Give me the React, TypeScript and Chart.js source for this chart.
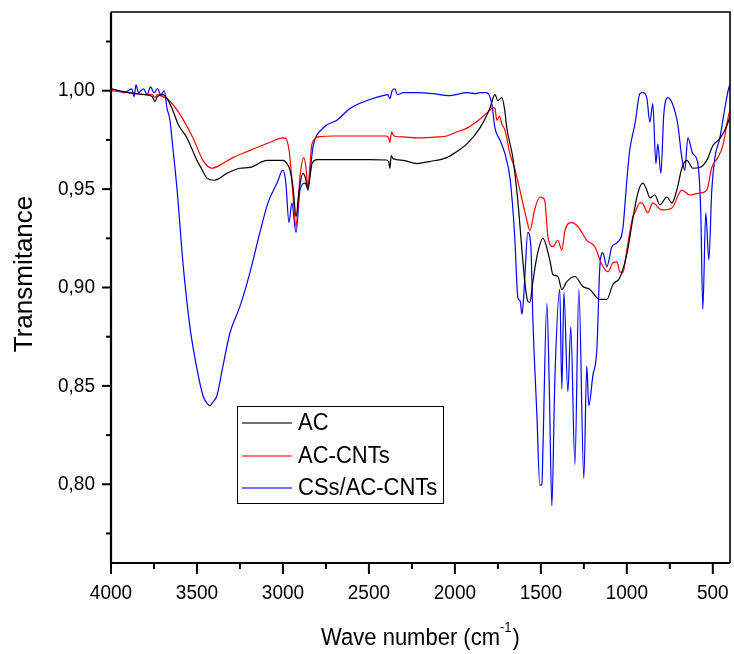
import { useEffect, useRef } from "react";
import { Chart, registerables } from "chart.js";

Chart.register(...registerables);

// ---- Data (wave number in cm-1, transmittance) ----
const acWave = [4000, 3950, 3900, 3800, 3760, 3745, 3730, 3700, 3674, 3640, 3610, 3558, 3500, 3471, 3442, 3400, 3326, 3250, 3192, 3093, 3000, 2970, 2959, 2940, 2924, 2905, 2884, 2870, 2855, 2840, 2831, 2800, 2700, 2610, 2500, 2400, 2385, 2378, 2370, 2360, 2300, 2221, 2150, 2047, 1990, 1930, 1855, 1797, 1767, 1750, 1727, 1710, 1698, 1663, 1634, 1610, 1593, 1576, 1564, 1547, 1523, 1488, 1448, 1430, 1401, 1378, 1349, 1302, 1256, 1215, 1157, 1116, 1081, 1041, 1000, 965, 936, 907, 884, 866, 837, 808, 767, 738, 709, 680, 651, 616, 576, 535, 500, 459, 430, 407, 400];
const acT = [1.001, 1.0, 0.999, 0.998, 0.997, 0.9945, 0.997, 0.998, 0.996, 0.99, 0.983, 0.976, 0.9646, 0.96, 0.9556, 0.9545, 0.958, 0.9606, 0.961, 0.9646, 0.9646, 0.962, 0.9596, 0.95, 0.936, 0.95, 0.958, 0.956, 0.9495, 0.958, 0.963, 0.965, 0.965, 0.965, 0.965, 0.9648, 0.964, 0.9606, 0.967, 0.9655, 0.9646, 0.963, 0.964, 0.966, 0.969, 0.973, 0.981, 0.991, 0.998, 0.995, 0.9965, 0.99, 0.981, 0.966, 0.944, 0.919, 0.9025, 0.893, 0.8924, 0.9025, 0.9157, 0.925, 0.914, 0.9066, 0.9056, 0.899, 0.903, 0.9056, 0.9005, 0.899, 0.894, 0.894, 0.9015, 0.905, 0.917, 0.935, 0.948, 0.953, 0.9495, 0.9455, 0.947, 0.942, 0.946, 0.943, 0.9495, 0.9606, 0.9646, 0.9606, 0.961, 0.9646, 0.972, 0.9757, 0.98, 0.985, 0.987];

const acCntWave = [4000, 3900, 3800, 3760, 3745, 3730, 3700, 3674, 3599, 3523, 3465, 3413, 3350, 3291, 3192, 3076, 3000, 2983, 2965, 2953, 2940, 2924, 2910, 2901, 2878, 2865, 2855, 2843, 2831, 2785, 2700, 2610, 2500, 2400, 2385, 2378, 2368, 2355, 2300, 2221, 2100, 2047, 1990, 1930, 1855, 1797, 1779, 1767, 1756, 1740, 1727, 1709, 1680, 1651, 1622, 1581, 1564, 1535, 1506, 1488, 1477, 1459, 1430, 1401, 1378, 1360, 1320, 1285, 1233, 1186, 1145, 1110, 1081, 1058, 1041, 1023, 1000, 983, 965, 953, 924, 913, 878, 849, 797, 738, 680, 634, 576, 535, 506, 471, 442, 407, 400];
const acCntT = [1.0, 0.999, 0.998, 0.998, 0.9965, 0.998, 0.997, 0.996, 0.988, 0.976, 0.9646, 0.9606, 0.963, 0.966, 0.9697, 0.9737, 0.976, 0.9757, 0.97, 0.96, 0.945, 0.931, 0.945, 0.956, 0.966, 0.96, 0.951, 0.962, 0.973, 0.9767, 0.977, 0.977, 0.977, 0.977, 0.976, 0.9737, 0.979, 0.977, 0.9765, 0.976, 0.9765, 0.977, 0.979, 0.981, 0.9855, 0.99, 0.9914, 0.991, 0.985, 0.987, 0.983, 0.98, 0.968, 0.96, 0.9495, 0.934, 0.929, 0.94, 0.946, 0.9455, 0.944, 0.926, 0.9207, 0.924, 0.919, 0.929, 0.933, 0.931, 0.924, 0.9207, 0.9116, 0.908, 0.9126, 0.913, 0.908, 0.9076, 0.919, 0.928, 0.936, 0.938, 0.943, 0.943, 0.938, 0.943, 0.9394, 0.9404, 0.9495, 0.947, 0.948, 0.9495, 0.961, 0.966, 0.972, 0.988, 0.99];

const csWave = [4000, 3960, 3920, 3880, 3865, 3855, 3840, 3810, 3790, 3770, 3750, 3730, 3710, 3690, 3674, 3657, 3645, 3616, 3581, 3541, 3500, 3465, 3440, 3424, 3410, 3384, 3349, 3308, 3250, 3192, 3134, 3087, 3035, 3000, 2983, 2965, 2948, 2924, 2901, 2872, 2855, 2826, 2767, 2686, 2610, 2512, 2419, 2390, 2378, 2365, 2349, 2335, 2300, 2221, 2128, 2029, 1930, 1880, 1855, 1814, 1785, 1767, 1738, 1709, 1680, 1663, 1651, 1634, 1620, 1610, 1600, 1593, 1576, 1558, 1547, 1523, 1506, 1494, 1488, 1465, 1450, 1436, 1419, 1390, 1378, 1366, 1343, 1326, 1302, 1279, 1250, 1233, 1221, 1198, 1174, 1157, 1140, 1116, 1087, 1058, 1023, 1012, 1000, 983, 953, 924, 907, 884, 866, 849, 831, 820, 802, 785, 762, 733, 704, 680, 663, 645, 616, 587, 570, 558, 541, 523, 506, 488, 459, 436, 407, 400];
const csT = [1.001, 1.0, 0.999, 1.001, 0.997, 1.003, 0.999, 1.001, 0.998, 1.002, 0.999, 1.001, 0.998, 1.0, 0.991, 0.985, 0.975, 0.95, 0.912, 0.88, 0.8586, 0.845, 0.841, 0.84, 0.8415, 0.845, 0.86, 0.877, 0.8904, 0.9076, 0.928, 0.943, 0.953, 0.9596, 0.953, 0.933, 0.943, 0.928, 0.9495, 0.953, 0.951, 0.971, 0.981, 0.985, 0.991, 0.995, 0.9975, 0.998, 0.996, 1.0, 1.001, 0.998, 0.999, 0.999, 0.9985, 0.9975, 0.999, 0.9985, 0.999, 0.999, 0.993, 0.981, 0.975, 0.968, 0.956, 0.94, 0.924, 0.895, 0.893, 0.8864, 0.895, 0.9056, 0.928, 0.921, 0.8854, 0.835, 0.7995, 0.8, 0.818, 0.892, 0.845, 0.789, 0.852, 0.899, 0.8485, 0.8975, 0.847, 0.88, 0.81, 0.899, 0.803, 0.86, 0.84, 0.855, 0.869, 0.9106, 0.9177, 0.9106, 0.9207, 0.9227, 0.93, 0.941, 0.9545, 0.97, 0.983, 0.9985, 0.999, 0.9965, 0.984, 0.9934, 0.963, 0.973, 0.958, 0.988, 0.9965, 0.993, 0.983, 0.966, 0.9596, 0.976, 0.968, 0.963, 0.938, 0.889, 0.938, 0.914, 0.9495, 0.966, 0.976, 0.988, 1.0015, 1.003];

const seriesNames = ["AC", "AC-CNTs", "CSs/AC-CNTs"];
const seriesColors = ["#000000", "#ff0000", "#0000ff"];
const legendColors = ["#444444", "#ff4444", "#4444ff"];

const xMajorTicks = [4000, 3500, 3000, 2500, 2000, 1500, 1000, 500];
const xMinorTicks = [3750, 3250, 2750, 2250, 1750, 1250, 750];
const yMajorTicks = [0.8, 0.85, 0.9, 0.95, 1.0];
const yMinorTicks = [0.775, 0.825, 0.875, 0.925, 0.975, 1.025];

const FONT = '"Liberation Sans", Arial, sans-serif';

const toPoints = (w: number[], t: number[]) => w.map((x, i) => ({ x, y: t[i] }));

// draw text slightly stretched vertically, like the reference
function tallText(ctx: CanvasRenderingContext2D, text: string, x: number, y: number, sy = 1.1) {
  ctx.save();
  ctx.translate(x, y);
  ctx.scale(1, sy);
  ctx.fillText(text, 0, 0);
  ctx.restore();
}

const decorPlugin = {
  id: "decor",
  afterDraw(chart: any) {
    const { ctx, chartArea, scales } = chart;
    const { left, right, top, bottom } = chartArea;
    const xs = scales.x;
    const ys = scales.y;
    ctx.save();
    ctx.strokeStyle = "#000";
    ctx.fillStyle = "#000";

    // frame
    ctx.lineWidth = 1.6;
    ctx.beginPath();
    ctx.moveTo(left, top);
    ctx.lineTo(right, top);
    ctx.lineTo(right, bottom);
    ctx.stroke();
    ctx.lineWidth = 2.2;
    ctx.beginPath();
    ctx.moveTo(left, top);
    ctx.lineTo(left, bottom);
    ctx.lineTo(right, bottom);
    ctx.stroke();

    // x ticks
    ctx.lineWidth = 2;
    ctx.font = `19px ${FONT}`;
    ctx.textAlign = "center";
    ctx.textBaseline = "middle";
    xMajorTicks.forEach((v) => {
      const px = xs.getPixelForValue(v);
      ctx.beginPath();
      ctx.moveTo(px, bottom);
      ctx.lineTo(px, bottom + 11);
      ctx.stroke();
      tallText(ctx, String(v), px, bottom + 30);
    });
    xMinorTicks.forEach((v) => {
      const px = xs.getPixelForValue(v);
      ctx.beginPath();
      ctx.moveTo(px, bottom);
      ctx.lineTo(px, bottom + 6);
      ctx.stroke();
    });

    // y ticks
    ctx.textAlign = "right";
    yMajorTicks.forEach((v) => {
      const py = ys.getPixelForValue(v);
      ctx.beginPath();
      ctx.moveTo(left - 9, py);
      ctx.lineTo(left, py);
      ctx.stroke();
      tallText(ctx, v.toFixed(2).replace(".", ","), left - 16, py);
    });
    yMinorTicks.forEach((v) => {
      const py = ys.getPixelForValue(v);
      ctx.beginPath();
      ctx.moveTo(left - 5, py);
      ctx.lineTo(left, py);
      ctx.stroke();
    });

    // y title
    ctx.save();
    ctx.translate(25, 274);
    ctx.rotate(-Math.PI / 2);
    ctx.textAlign = "center";
    ctx.font = `26px ${FONT}`;
    ctx.fillText("Transmitance", 0, 0);
    ctx.restore();

    // x title with superscript
    const main = "Wave number (cm";
    const sup = "-1";
    const close = ")";
    ctx.font = `22px ${FONT}`;
    const wMain = ctx.measureText(main).width;
    const wClose = ctx.measureText(close).width;
    ctx.font = `13px ${FONT}`;
    const wSup = ctx.measureText(sup).width;
    const total = wMain + wSup + wClose + 1;
    const cx = (left + right) / 2;
    let sx = cx - total / 2;
    const baseY = 645;
    ctx.textAlign = "left";
    ctx.textBaseline = "alphabetic";
    ctx.font = `22px ${FONT}`;
    tallText(ctx, main, sx, baseY, 1.08);
    sx += wMain;
    ctx.font = `13px ${FONT}`;
    tallText(ctx, sup, sx, baseY - 13, 1.08);
    sx += wSup + 1;
    ctx.font = `22px ${FONT}`;
    tallText(ctx, close, sx, baseY, 1.08);

    // legend
    ctx.lineWidth = 1;
    ctx.strokeStyle = "#000";
    ctx.strokeRect(237.5, 406.5, 206, 97);
    const rows = [423, 456, 488];
    ctx.font = `22px ${FONT}`;
    ctx.textBaseline = "middle";
    seriesNames.forEach((name, i) => {
      ctx.strokeStyle = legendColors[i];
      ctx.lineWidth = 1.5;
      ctx.beginPath();
      ctx.moveTo(242, rows[i]);
      ctx.lineTo(292, rows[i]);
      ctx.stroke();
      ctx.fillStyle = "#000";
      tallText(ctx, name, 298, rows[i] + 1, 1.07);
    });

    ctx.restore();
  },
};

export default function App() {
  const canvasRef = useRef<HTMLCanvasElement | null>(null);

  useEffect(() => {
    document.body.style.margin = "0";
    const canvas = canvasRef.current;
    if (!canvas) return;
    const chart = new Chart(canvas, {
      type: "line",
      data: {
        datasets: [
          { label: seriesNames[0], data: toPoints(acWave, acT), borderColor: seriesColors[0] },
          { label: seriesNames[1], data: toPoints(acCntWave, acCntT), borderColor: seriesColors[1] },
          { label: seriesNames[2], data: toPoints(csWave, csT), borderColor: seriesColors[2] },
        ].map((d) => ({
          ...d,
          borderWidth: 1.2,
          pointRadius: 0,
          cubicInterpolationMode: "monotone",
          fill: false,
        })),
      },
      options: {
        animation: false,
        responsive: false,
        events: [],
        layout: { padding: { left: 111, right: 4, top: 12, bottom: 91 } },
        plugins: { legend: { display: false }, tooltip: { enabled: false }, title: { display: false } },
        scales: {
          x: { type: "linear", reverse: true, min: 400, max: 4000, display: false },
          y: { type: "linear", min: 0.76, max: 1.04, display: false },
        },
      },
      plugins: [decorPlugin],
    } as any);
    return () => chart.destroy();
  }, []);

  return (
    <div style={{ width: 734, height: 654, background: "#fff" }}>
      <canvas ref={canvasRef} width={734} height={654} style={{ display: "block", width: 734, height: 654 }} />
    </div>
  );
}
